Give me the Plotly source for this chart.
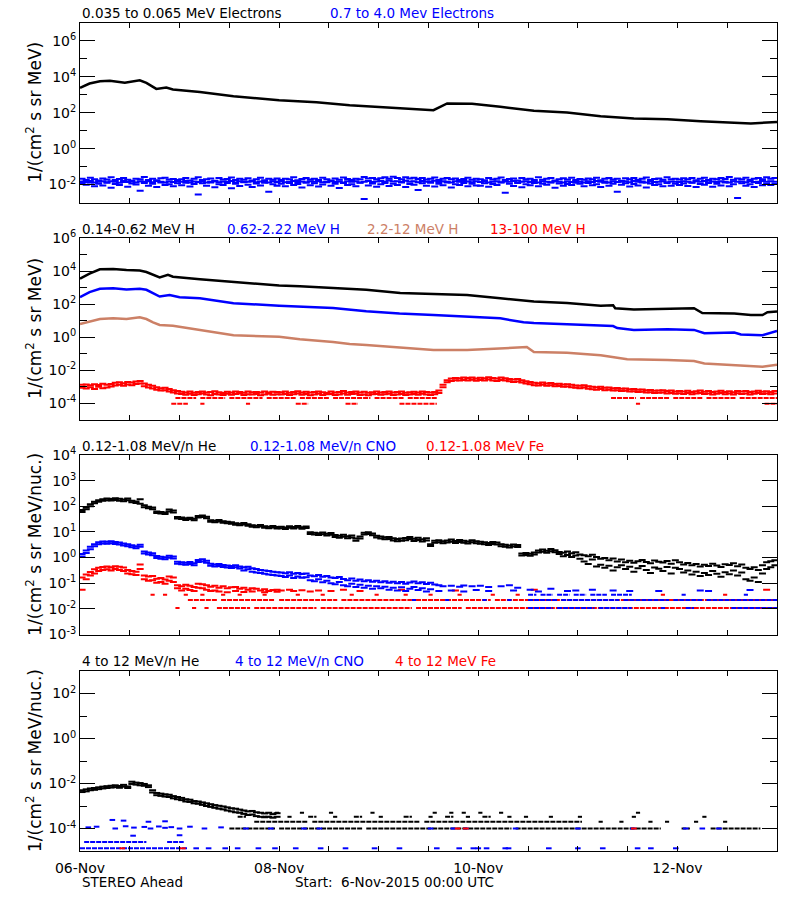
import pandas as pd
import plotly.graph_objects as go

N = None
START = pd.Timestamp("2015-11-06 00:00")
DAYS = 7

# ---------------- data (flux values stored as log10) ----------------
# Panel 1 : electrons
e_low_hours = [0, 2.3, 4.8, 7.2, 10.8, 14.4, 16, 18.4, 20.8, 22.4, 28.9, 37, 48, 57, 65, 73, 77.2,
               85.2, 88.5, 94.5, 101.3, 109.4, 117.4, 125.5, 133.5, 141.6, 149.6, 157.7, 161.7, 168]
e_low_log = [3.39, 3.63, 3.76, 3.78, 3.67, 3.81, 3.66, 3.33, 3.41, 3.30, 3.15, 2.92, 2.70, 2.59, 2.42, 2.30, 2.24,
             2.14, 2.52, 2.50, 2.33, 2.11, 2.02, 1.81, 1.68, 1.64, 1.53, 1.46, 1.40, 1.49]

e_high_a_log = [
    -1.68,-1.74,-1.62,-1.70,-1.77,-1.66,-1.72,-1.60,-1.75,-1.69,-1.64,-1.73,-1.79,-1.67,-1.71,-1.58,-1.74,-1.68,-1.76,-1.65,-1.62,-1.72,-1.69,-1.75,
    -1.71,-1.63,-1.77,-1.68,-1.60,-1.74,-1.70,-1.66,-1.79,-1.64,-1.72,-1.69,-1.61,-1.75,-1.67,-1.73,-1.65,-1.78,-1.70,-1.62,-1.76,-1.68,-1.73,-1.66,
    -1.74,-1.67,-1.71,-1.59,-1.76,-1.69,-1.64,-1.72,-1.68,-1.75,-1.62,-1.70,-1.77,-1.66,-1.73,-1.61,-1.69,-1.74,-1.67,-1.71,-1.58,-1.66,-1.63,-1.70,
    -1.65,-1.60,-1.68,-1.57,-1.63,-1.70,-1.59,-1.66,-1.62,-1.69,-1.64,-1.72,-1.67,-1.61,-1.74,-1.68,-1.63,-1.71,-1.66,-1.75,-1.69,-1.62,-1.73,-1.67,
    -1.70,-1.76,-1.64,-1.72,-1.68,-1.61,-1.74,-1.69,-1.66,-1.78,-1.63,-1.71,-1.67,-1.75,-1.60,-1.73,-1.68,-1.64,-1.77,-1.70,-1.65,-1.72,-1.62,-1.74,
    -1.69,-1.73,-1.66,-1.71,-1.62,-1.76,-1.68,-1.64,-1.72,-1.67,-1.79,-1.65,-1.70,-1.63,-1.74,-1.68,-1.61,-1.75,-1.69,-1.66,-1.73,-1.60,-1.71,-1.67,
    -1.72,-1.65,-1.70,-1.63,-1.76,-1.68,-1.62,-1.74,-1.67,-1.71,-1.64,-1.69,-1.58,-1.73,-1.66,-1.70,-1.62,-1.75,-1.68,-1.64,-1.71,-1.60,-1.67,-1.63]
e_high_b_log = [
    -1.92,-2.01,-1.88,-2.10,-1.95,-2.05,-1.90,-2.18,-1.97,-2.03,-1.86,-2.12,-1.94,-2.00,-2.35,-1.91,-2.07,-1.96,-2.14,-1.89,-2.02,-1.98,-2.09,-1.93,
    -2.04,-1.90,-2.11,-1.97,-2.55,-1.93,-2.06,-1.88,-2.15,-1.99,-2.03,-1.92,-2.20,-1.95,-2.08,-1.87,-2.01,-2.13,-1.94,-2.05,-1.90,-2.40,-1.98,-2.07,
    -1.95,-2.09,-1.91,-2.02,-1.97,-2.16,-1.89,-2.04,-1.93,-2.11,-2.00,-1.87,-2.06,-1.96,-2.19,-1.92,-2.03,-1.98,-2.10,-1.90,-2.80,-2.05,-1.94,-2.12,
    -1.99,-1.91,-2.08,-1.95,-2.03,-1.88,-2.14,-1.97,-2.01,-2.30,-1.93,-2.06,-1.90,-2.11,-1.96,-2.04,-1.89,-2.17,-1.98,-2.02,-1.92,-2.09,-1.95,-2.05,
    -2.06,-1.93,-2.12,-1.97,-2.02,-1.89,-2.45,-1.95,-2.08,-1.91,-2.15,-1.99,-2.04,-1.92,-2.10,-1.96,-2.01,-1.88,-2.18,-1.94,-2.07,-1.97,-2.03,-1.90,
    -1.96,-2.09,-1.92,-2.04,-1.99,-2.13,-1.90,-2.06,-1.95,-2.40,-2.01,-1.93,-2.11,-1.97,-2.05,-1.89,-2.16,-1.94,-2.02,-1.98,-2.10,-1.91,-2.07,-1.95,
    -2.03,-1.94,-2.08,-1.90,-2.14,-1.97,-2.01,-1.92,-2.12,-1.96,-2.05,-1.89,-2.09,-1.99,-2.75,-1.93,-2.06,-1.98,-2.13,-1.91,-2.04,-1.95,-2.02,-1.97]
e_high_c_log = [
    -1.83,-1.86,-1.80,-1.89,-1.84,-1.81,-1.87,-1.82,-1.85,-1.90,-1.79,-1.86,-1.83,-1.88,-1.81,-1.85,-1.82,-1.87,-1.80,-1.84,-1.89,-1.83,-1.86,-1.81,
    -1.85,-1.80,-1.88,-1.83,-1.86,-1.82,-1.89,-1.84,-1.81,-1.87,-1.83,-1.85,-1.80,-1.88,-1.82,-1.86,-1.84,-1.81,-1.87,-1.83,-1.85,-1.89,-1.82,-1.86,
    -1.82,-1.87,-1.84,-1.80,-1.86,-1.83,-1.88,-1.81,-1.85,-1.82,-1.87,-1.84,-1.80,-1.86,-1.83,-1.89,-1.81,-1.85,-1.82,-1.88,-1.84,-1.80,-1.86,-1.83,
    -1.80,-1.84,-1.78,-1.83,-1.81,-1.86,-1.79,-1.84,-1.82,-1.87,-1.80,-1.85,-1.83,-1.79,-1.86,-1.81,-1.84,-1.88,-1.82,-1.85,-1.80,-1.83,-1.87,-1.81,
    -1.86,-1.82,-1.88,-1.84,-1.81,-1.87,-1.83,-1.85,-1.80,-1.89,-1.84,-1.82,-1.86,-1.83,-1.88,-1.81,-1.85,-1.87,-1.82,-1.84,-1.89,-1.83,-1.86,-1.80,
    -1.84,-1.88,-1.82,-1.86,-1.80,-1.85,-1.83,-1.89,-1.81,-1.86,-1.84,-1.82,-1.87,-1.80,-1.85,-1.83,-1.88,-1.82,-1.86,-1.84,-1.81,-1.87,-1.83,-1.85,
    -1.86,-1.81,-1.84,-1.88,-1.82,-1.85,-1.80,-1.87,-1.83,-1.86,-1.81,-1.84,-1.89,-1.82,-1.85,-1.83,-1.87,-1.81,-1.86,-1.84,-1.80,-1.85,-1.82,-1.84]

# Panel 2 : protons
h1_hours = [0, 2.3, 4.8, 8, 11.2, 14.4, 16, 18.4, 19.2, 21.2, 22.4, 28.9, 37, 48, 53, 61, 69, 77.2, 85.2, 93.3,
            101.3, 109.4, 117.4, 125.5, 128.5, 129, 133.5, 141.6, 148, 150, 157.7, 161.7, 164.5, 165.7, 168]
h1_log = [3.53, 3.84, 4.10, 4.12, 4.06, 4.03, 3.94, 3.67, 3.61, 3.77, 3.65, 3.50, 3.33, 3.12, 3.08, 2.96, 2.86, 2.67, 2.61, 2.55,
          2.35, 2.15, 2.06, 1.90, 1.92, 1.74, 1.66, 1.70, 1.74, 1.45, 1.43, 1.33, 1.33, 1.50, 1.54]
h2_hours = [0, 2.3, 4.8, 8, 11.2, 14.4, 16, 18, 19.2, 21.6, 24, 28.9, 32.9, 37, 48, 53, 61, 69, 77, 85.2, 93.3,
            101.3, 106.9, 109.4, 117.4, 125.5, 128.5, 129.5, 133.5, 141.6, 148, 150.5, 157.7, 159.3, 164.5, 168]
h2_log = [2.41, 2.72, 2.92, 2.95, 2.88, 2.92, 2.86, 2.61, 2.45, 2.55, 2.41, 2.35, 2.21, 2.05, 1.90, 1.86, 1.76, 1.56, 1.42, 1.33, 1.25,
          1.13, 0.89, 0.85, 0.78, 0.68, 0.66, 0.54, 0.43, 0.47, 0.43, 0.23, 0.27, 0.15, 0.11, 0.37]
h3_hours = [0, 2.3, 4.8, 8, 11.2, 14.4, 16, 17.6, 19.2, 22.4, 28.9, 33, 37, 48, 53, 61, 65, 69, 77.2, 85.2, 93.3,
            101.3, 107.7, 109.4, 117.4, 125.5, 131.9, 141.6, 148, 150.5, 157.7, 164.5, 168]
h3_log = [0.79, 0.93, 1.09, 1.13, 1.09, 1.19, 1.09, 0.89, 0.73, 0.68, 0.43, 0.28, 0.11, 0.01, -0.13, -0.30, -0.43, -0.49, -0.64, -0.79, -0.79,
          -0.70, -0.61, -0.91, -0.95, -1.11, -1.35, -1.39, -1.45, -1.60, -1.68, -1.80, -1.68]

h4_a_log = [
    -2.90,-2.88,-2.93,-2.86,-2.91,-2.84,-2.89,-2.85,-2.78,-2.74,-2.80,-2.72,-2.76,-2.70,-2.66,-2.82,-2.90,-2.95,-3.05,-3.10,-3.08,-3.15,-3.22,-3.28,
    -3.32,-3.36,-3.30,-3.38,-3.34,-3.31,-3.37,-3.33,-3.29,-3.35,-3.39,-3.32,-3.36,-3.30,-3.34,-3.38,-3.31,-3.35,-3.33,-3.37,-3.30,-3.36,-3.32,-3.34,
    -3.35,-3.31,-3.38,-3.33,-3.29,-3.36,-3.32,-3.37,-3.34,-3.30,-3.35,-3.39,-3.31,-3.36,-3.33,-3.28,-3.37,-3.34,-3.30,-3.36,-3.32,-3.38,-3.35,-3.31,
    -3.36,-3.33,-3.30,-3.37,-3.34,-3.31,-3.38,-3.35,-3.32,-3.36,-3.30,-3.34,-3.37,-3.33,-3.25,-2.90,-2.62,-2.52,-2.48,-2.50,-2.46,-2.49,-2.45,-2.51,
    -2.47,-2.50,-2.44,-2.49,-2.52,-2.46,-2.50,-2.54,-2.58,-2.55,-2.62,-2.68,-2.72,-2.78,-2.80,-2.76,-2.82,-2.79,-2.85,-2.83,-2.88,-2.86,-2.90,-2.94,
    -2.96,-2.92,-2.99,-3.02,-3.05,-3.01,-3.08,-3.06,-3.11,-3.09,-3.14,-3.12,-3.17,-3.15,-3.20,-3.18,-3.23,-3.21,-3.26,-3.24,-3.22,-3.28,-3.25,-3.30,
    -3.27,-3.31,-3.26,-3.33,-3.29,-3.25,-3.32,-3.28,-3.34,-3.30,-3.26,-3.33,-3.29,-3.35,-3.27,-3.31,-3.28,-3.34,-3.30,-3.26,-3.32,-3.29,-3.33,-3.28]
h4_b_log = [
    -3.08,-3.12,-3.05,-3.15,-3.02,-3.10,-3.06,-3.00,-2.94,-2.90,-2.96,-2.88,-2.92,-2.85,-2.82,-2.98,-3.06,-3.12,-3.20,-3.25,-3.22,-3.30,-3.36,-3.42,
    -3.46,-3.50,-3.44,-3.52,-3.47,-3.43,-3.49,-3.53,-3.45,-3.48,-3.51,-3.44,-3.50,-3.46,-3.42,-3.52,-3.47,-3.49,-3.45,-3.53,-3.48,-3.44,-3.50,-3.47,
    -3.49,-3.45,-3.52,-3.47,-3.43,-3.50,-3.46,-3.53,-3.48,-3.44,-3.51,-3.47,-3.45,-3.52,-3.49,-3.43,-3.50,-3.46,-3.44,-3.51,-3.48,-3.53,-3.47,-3.45,
    -3.50,-3.47,-3.44,-3.52,-3.48,-3.45,-3.51,-3.49,-3.46,-3.50,-3.44,-3.48,-3.52,-3.47,-3.40,-3.05,-2.74,-2.66,-2.62,-2.64,-2.60,-2.63,-2.59,-2.65,
    -2.61,-2.64,-2.58,-2.63,-2.66,-2.60,-2.64,-2.68,-2.72,-2.69,-2.76,-2.82,-2.86,-2.92,-2.94,-2.90,-2.96,-2.93,-2.99,-2.97,-3.02,-3.00,-3.04,-3.08,
    -3.10,-3.06,-3.13,-3.16,-3.19,-3.15,-3.22,-3.20,-3.25,-3.23,-3.28,-3.26,-3.31,-3.29,-3.34,-3.32,-3.37,-3.35,-3.40,-3.38,-3.36,-3.42,-3.39,-3.44,
    -3.41,-3.45,-3.40,-3.47,-3.43,-3.39,-3.46,-3.42,-3.48,-3.44,-3.40,-3.47,-3.43,-3.49,-3.41,-3.45,-3.42,-3.48,-3.44,-3.40,-3.46,-3.43,-3.47,-3.42]
# count-floor levels of the 13-100 MeV channel: (start hour, end hour)
h4_floor1_log = -3.70
h4_floor1_runs = [(23, 28), (29, 35), (36, 44), (45, 52), (53, 60), (61, 70), (71, 78), (79, 86),
                  (128, 134), (135, 142), (143, 150), (151, 158), (159, 168)]
h4_floor2_log = -4.05
h4_floor2_runs = [(22, 26), (29, 30), (40, 41), (52, 55), (64, 67), (77, 86), (134, 135), (165, 168)]

# Panel 3 : 0.12-1.08 MeV/n ions
he_a_log = [
    1.86,1.95,2.08,2.18,2.24,2.27,2.30,2.28,2.31,2.29,2.26,2.30,2.22,2.19,2.27,2.04,1.98,1.95,1.80,1.78,1.76,1.87,1.84,1.58,
    1.56,1.53,1.55,1.51,1.62,1.64,1.59,1.46,1.44,1.47,1.42,1.40,1.38,1.34,1.32,1.35,1.30,1.26,1.24,1.27,1.22,1.20,1.23,1.19,
    1.20,1.17,1.22,1.19,1.23,1.18,1.21,0.99,0.97,0.95,0.98,0.93,0.96,0.88,0.85,0.89,0.83,0.86,0.74,0.82,0.97,0.99,0.94,0.85,
    0.82,0.79,0.80,0.75,0.72,0.74,0.76,0.80,0.73,0.77,0.71,0.75,0.52,0.66,0.68,0.64,0.67,0.70,0.65,0.69,0.66,0.63,0.68,0.64,
    0.62,0.60,0.57,0.61,0.59,0.52,0.50,0.47,0.51,0.49,0.16,0.18,0.15,0.20,0.28,0.31,0.27,0.33,0.29,0.22,0.19,0.24,0.17,0.21,
    0.12,0.09,0.05,0.11,0.02,-0.05,-0.02,-0.10,-0.04,-0.15,-0.08,-0.18,-0.12,-0.20,-0.14,-0.09,-0.17,-0.22,-0.11,-0.16,-0.19,-0.13,-0.24,-0.10,
    -0.18,-0.27,-0.21,-0.30,-0.25,-0.35,-0.28,-0.33,-0.24,-0.31,-0.37,-0.26,-0.29,-0.22,-0.34,-0.27,-0.40,-0.45,-0.38,-0.48,-0.30,-0.18,-0.14,-0.10]
he_b_log = [
    1.78,1.88,2.00,2.12,2.18,2.22,2.24,2.23,2.25,2.22,2.20,2.24,2.16,2.13,2.10,1.96,1.92,1.88,1.74,1.72,1.70,1.80,1.76,1.52,
    1.50,1.47,1.50,1.46,1.56,1.58,1.53,1.40,1.38,1.41,1.36,1.34,1.32,1.28,1.26,1.29,1.24,1.20,1.18,1.21,1.16,1.14,1.17,1.13,
    1.14,1.11,1.16,1.13,1.17,1.12,1.15,0.92,0.90,0.88,0.91,0.86,0.89,0.80,0.77,0.81,0.75,0.78,0.66,0.74,0.90,0.92,0.87,0.78,
    0.74,0.71,0.72,0.67,0.64,0.66,0.68,0.72,0.65,0.69,0.63,0.67,0.45,0.58,0.60,0.56,0.59,0.62,0.57,0.61,0.58,0.55,0.60,0.56,
    0.54,0.52,0.49,0.53,0.51,0.44,0.42,0.39,0.43,0.41,0.08,0.10,0.07,0.12,0.20,0.23,0.19,0.25,0.21,0.14,0.05,0.10,0.02,0.08,
    -0.05,-0.15,-0.25,-0.08,-0.35,-0.28,-0.40,-0.32,-0.50,-0.38,-0.30,-0.45,-0.36,-0.55,-0.42,-0.33,-0.48,-0.60,-0.39,-0.44,-0.52,-0.37,-0.62,-0.40,
    -0.45,-0.58,-0.50,-0.66,-0.55,-0.72,-0.60,-0.68,-0.52,-0.63,-0.75,-0.57,-0.65,-0.50,-0.70,-0.58,-0.85,-0.90,-0.78,-0.95,-0.62,-0.45,-0.38,-0.30]
cno_a_log = [
    0.14,0.28,0.42,0.52,0.60,0.63,0.62,0.64,0.61,0.59,0.55,0.52,0.48,0.44,0.50,0.24,0.20,0.17,0.06,0.03,0.01,0.07,0.04,-0.16,
    -0.18,-0.20,-0.17,-0.22,-0.09,-0.07,-0.12,-0.24,-0.27,-0.25,-0.29,-0.31,-0.33,-0.30,-0.35,-0.38,-0.36,-0.42,-0.45,-0.48,-0.50,-0.52,-0.55,-0.57,
    -0.58,-0.61,-0.57,-0.63,-0.60,-0.64,-0.62,-0.70,-0.73,-0.68,-0.75,-0.72,-0.78,-0.80,-0.76,-0.84,-0.88,-0.82,-0.90,-0.86,-0.92,-0.88,-0.94,-0.90,
    -0.96,-0.92,-0.98,-0.94,-1.00,-0.95,-1.02,-0.97,-0.93,-1.00,-0.96,-1.03,-0.98,-1.05,-1.08,-1.12,N,-1.10,N,-1.14,-1.09,N,-1.12,N,
    -1.10,N,-1.15,N,N,-1.12,N,-1.08,N,-1.18,N,N,-1.25,N,N,N,N,-1.22,N,N,N,N,N,-1.28,
    N,N,N,-1.25,N,N,N,N,N,N,N,N,-1.30,N,N,N,N,N,N,N,N,N,N,N,
    N,N,N,N,N,N,N,-1.30,N,N,N,N,N,N,N,N,N,N,N,N,N,N,N,N]
cno_b_log = [
    0.04,0.18,0.32,0.44,0.52,0.55,0.54,0.56,0.53,0.51,0.47,0.44,0.40,0.36,0.42,0.16,0.12,0.09,-0.02,-0.05,-0.07,-0.01,-0.04,-0.24,
    -0.26,-0.28,-0.25,-0.30,-0.17,-0.15,-0.20,-0.32,-0.35,-0.33,-0.37,-0.39,-0.41,-0.38,-0.43,-0.50,-0.46,-0.55,-0.58,-0.60,-0.63,-0.66,-0.68,-0.70,
    -0.72,-0.76,-0.70,-0.80,-0.74,-0.79,-0.77,-0.88,-0.92,-0.85,-0.96,-0.90,-1.00,-1.04,-0.95,-1.08,-1.12,-1.02,-1.15,-1.06,-1.18,-1.10,-1.22,-1.12,
    -1.20,-1.14,-1.25,-1.18,-1.28,-1.16,-1.30,-1.22,-1.15,-1.26,-1.20,-1.32,-1.24,N,-1.30,N,N,-1.28,N,N,-1.32,N,N,-1.26,
    N,N,-1.30,N,N,N,N,N,-1.28,N,N,N,N,N,-1.32,N,N,N,N,N,N,-1.30,N,N,
    N,N,N,N,N,N,N,N,-1.28,N,N,N,N,N,N,N,N,N,N,-1.30,N,N,N,N,
    N,N,N,N,N,-1.28,N,N,N,N,N,N,N,N,N,N,N,-1.26,N,N,N,N,N,N]
fe_a_log = [
    -0.78,-0.66,-0.56,-0.46,-0.40,-0.37,-0.35,-0.38,-0.34,-0.36,-0.39,-0.48,-0.52,-0.55,-0.27,-0.70,-0.74,-0.72,-0.83,-0.80,-0.86,-0.74,-0.78,-1.08,
    -1.12,-1.06,-1.10,-1.15,-1.02,-1.04,-1.08,-1.14,-1.10,-1.18,-1.12,-1.20,-1.16,-1.15,-1.22,-1.18,-1.25,-1.20,-1.22,-1.28,-1.24,-1.30,-1.26,-1.25,
    -1.28,N,-1.25,-1.30,N,-1.27,N,-1.32,N,-1.28,N,N,-1.30,N,N,-1.25,N,N,N,-1.30,N,N,N,N,
    N,N,N,N,N,-1.25,N,N,N,N,N,N,N,N,N,N,N,N,-1.28,N,N,N,N,N,
    N,N,N,N,N,N,N,N,N,N,N,N,N,-1.25,N,N,N,N,N,N,N,N,N,N,
    N,N,N,N,N,N,N,N,N,N,N,N,N,N,N,N,N,N,N,N,N,N,N,N,
    N,N,N,N,N,N,N,N,N,N,N,N,N,N,N,N,N,N,N,N,N,-1.25,N,N]
fe_b_log = [
    -1.25,-0.85,-0.70,-0.62,-0.52,-0.48,-0.46,-0.50,-0.45,-0.48,-0.52,-0.62,-0.65,-0.68,-0.45,-0.85,-0.90,-0.88,-0.98,-0.95,-1.02,-0.90,-0.95,-1.20,
    -1.28,-1.22,-1.26,-1.30,-1.18,-1.20,-1.25,-1.30,-1.28,-1.32,N,-1.35,N,-1.30,N,-1.34,N,-1.32,N,N,-1.35,N,N,-1.33]
# count-floor levels (start hour, end hour)
lvl1_log, lvl2_log, lvl3_log = -1.97, -1.65, -1.45
fe_lvl1_runs = [(23, 24), (27, 28), (30, 31), (33, 41), (42, 57), (58, 80), (81, 92), (93, 168)]
cno_lvl1_runs = [(108, 114), (115, 124), (125, 133), (140, 141), (146, 148), (157, 168)]
fe_lvl2_runs = [(26, 33), (34, 47), (48, 62), (63, 80), (81, 99), (100, 168)]
cno_lvl2_runs = [(80, 81), (88, 89), (97, 98), (103, 104), (108, 115), (116, 130), (131, 142), (143, 150), (151, 168)]
fe_lvl3_runs = [(17, 18), (20, 21), (25, 26), (29, 30), (34, 35), (38, 39), (44, 45), (52, 53), (58, 59), (65, 66),
                (71, 72), (78, 79), (84, 85), (91, 92), (99, 100), (105, 106), (140, 141), (155, 156)]
cno_lvl3_runs = [(108, 110), (111, 114), (115, 118), (119, 122), (123, 127), (128, 133), (145, 146), (160, 161)]

# Panel 4 : 4-12 MeV/n ions
he4_a_log = [
    -2.30,-2.26,-2.22,-2.20,-2.17,-2.14,-2.12,-2.10,-2.08,-2.11,-2.06,-2.13,-1.92,-1.96,-1.98,-2.02,-2.08,-2.30,-2.42,-2.45,-2.48,-2.50,-2.56,-2.60,
    -2.64,-2.70,-2.72,-2.78,-2.80,-2.84,-2.88,-2.92,-2.96,-2.99,-3.02,-3.06,-3.10,-3.12,-3.16,-3.20,-3.24,-3.22,-3.28,-3.30,-3.33,-3.30,-3.36,-3.32]
he4_b_log = [
    -2.38,-2.35,-2.30,-2.28,-2.25,-2.22,-2.20,-2.18,-2.16,-2.19,-2.14,-2.20,-2.02,-2.05,-2.08,-2.10,-2.16,-2.40,-2.52,-2.55,-2.58,-2.60,-2.66,-2.70,
    -2.74,-2.80,-2.82,-2.88,-2.90,-2.95,-3.00,-3.04,-3.08,-3.12,-3.15,-3.20,-3.24,-3.28,-3.30,-3.35,-3.40,-3.38,-3.45,-3.48,-3.50,-3.48,-3.52,-3.48]
he4_l1_log = -4.00
he4_l1_runs = [(36, 47), (48, 68), (69, 104), (105, 140), (145, 147), (152, 164)]
he4_l2_log = -3.70
he4_l2_runs = [(42, 55), (56, 82), (83, 121), (125, 126), (130, 131), (137, 138), (141, 142), (148, 149), (155, 156)]
he4_l3_log = -3.48
he4_l3_runs = [(38, 40), (44, 46), (50, 51), (55, 57), (61, 62), (66, 68), (72, 73), (78, 80), (84, 85), (88, 90),
               (93, 94), (97, 99), (103, 104), (107, 108), (113, 114), (120, 121), (133, 134), (150, 151)]
he4_l4_log = -3.30
he4_l4_runs = [(47, 48), (53, 54), (60, 61), (70, 71), (85, 86), (89, 90), (92, 93), (96, 97), (101, 102), (134, 135)]
cno4_l1_log = -4.88
cno4_l1_runs = [(0, 26)]
cno4_l2_log = -4.60
cno4_l2_runs = [(1, 16), (21, 25)]
cno4_pt_hours = [28, 31, 35, 38, 43, 47, 52, 58, 64, 71, 77, 86, 91.4, 94.8, 96, 98, 102.5, 103.3, 113, 120, 126, 134.4, 137.6, 143.6,
                 2, 4, 8.5, 11, 13, 15.5, 17, 19, 20.5, 22, 24, 26.5, 30, 34, 40, 46, 54, 57.7, 84.5, 90, 93, 105, 120, 133.3, 146, 150, 154,
                 7.8, 10.5, 16.5, 20.5, 12.8, 24]
cno4_pt_log = [-4.88, -4.88, -4.88, -4.88, -4.88, -4.88, -4.88, -4.88, -4.88, -4.88, -4.88, -4.88, -4.88, -4.88,
               -4.88, -4.88, -4.88, -4.88, -4.88, -4.88, -4.88, -4.88, -4.88, -4.88,
               -3.95, -3.92, -4.00, -3.90, -3.96, -3.93, -4.00, -3.91, -3.97, -3.94, -4.00, -3.92, -4.00, -3.95, -4.00, -4.00,
               -4.00, -4.00, -4.00, -4.00, -4.00, -4.00, -4.00, -4.00, -4.00, -4.00, -4.00,
               -3.62, -3.65, -3.70, -3.68, -4.32, -4.30]
fe4_pt_hours = [10.2, 24.8, 91, 93, 133.5]
fe4_pt_log = [-4.88, -4.88, -4.00, -4.00, -4.00]

# ---------------- labels ----------------
x_tick_labels = ["06-Nov", "08-Nov", "10-Nov", "12-Nov"]
titles = [
    [("0.035 to 0.065 MeV Electrons", "black", 80), ("0.7 to 4.0 Mev Electrons", "#0000FF", 328)],
    [("0.14-0.62 MeV H", "black", 80), ("0.62-2.22 MeV H", "#0000FF", 225),
     ("2.2-12 MeV H", "#CC8066", 365), ("13-100 MeV H", "#FF0000", 488)],
    [("0.12-1.08 MeV/n He", "black", 80), ("0.12-1.08 MeV/n CNO", "#0000FF", 248), ("0.12-1.08 MeV Fe", "#FF0000", 424)],
    [("4 to 12 MeV/n He", "black", 80), ("4 to 12 MeV/n CNO", "#0000FF", 233), ("4 to 12 MeV Fe", "#FF0000", 393)],
]
y_titles = ["1/(cm<sup>2</sup> s sr MeV)", "1/(cm<sup>2</sup> s sr MeV)",
            "1/(cm<sup>2</sup> s sr MeV/nuc.)", "1/(cm<sup>2</sup> s sr MeV/nuc.)"]

# ---------------- helpers ----------------
BLACK, BLUE, TAN, RED = "black", "#0000FF", "#CC8066", "#FF0000"
FONT = "DejaVu Sans"


def tt(hours):
    return [None if h is None else START + pd.Timedelta(hours=h) for h in hours]


def vv(logs):
    return [None if v is None else 10 ** v for v in logs]


hourly = [h + 0.5 for h in range(24 * DAYS)]

fig = go.Figure()


def axes_of(row):
    s = "" if row == 1 else str(row)
    return dict(xaxis="x" + s, yaxis="y" + s)


def add_line(row, hours, logs, color, width=2.5):
    fig.add_trace(go.Scatter(x=tt(hours), y=vv(logs), mode="lines", line=dict(color=color, width=width),
                             showlegend=False, hoverinfo="skip", **axes_of(row)))


def add_pts(row, hours, logs, color, size=5):
    fig.add_trace(go.Scatter(x=tt(hours), y=vv(logs), mode="markers",
                             marker=dict(symbol="line-ew", size=size, color=color, line=dict(width=2, color=color)),
                             showlegend=False, hoverinfo="skip", **axes_of(row)))


def add_runs(row, runs, level, color):
    xs, ys = [], []
    for s, e in runs:
        xs += [s, e, None]
        ys += [level, level, None]
    fig.add_trace(go.Scatter(x=tt(xs), y=vv(ys), mode="lines",
                             line=dict(color=color, width=2, dash="5px,1px"),
                             showlegend=False, hoverinfo="skip", connectgaps=False, **axes_of(row)))


# panel 1
add_line(1, e_low_hours, e_low_log, BLACK)
add_pts(1, hourly, e_high_a_log, BLUE)
add_pts(1, hourly, e_high_c_log, BLUE)
add_pts(1, hourly, e_high_b_log, BLUE)
# panel 2
add_line(2, h1_hours, h1_log, BLACK)
add_line(2, h2_hours, h2_log, BLUE)
add_line(2, h3_hours, h3_log, TAN)
add_pts(2, hourly, h4_a_log, RED)
add_pts(2, hourly, h4_b_log, RED)
add_runs(2, h4_floor1_runs, h4_floor1_log, RED)
add_runs(2, h4_floor2_runs, h4_floor2_log, RED)
# panel 3
add_runs(3, fe_lvl1_runs, lvl1_log, RED)
add_runs(3, fe_lvl2_runs, lvl2_log, RED)
add_runs(3, fe_lvl3_runs, lvl3_log, RED)
add_runs(3, cno_lvl1_runs, lvl1_log, BLUE)
add_runs(3, cno_lvl2_runs, lvl2_log, BLUE)
add_runs(3, cno_lvl3_runs, lvl3_log, BLUE)
add_pts(3, hourly, fe_a_log, RED)
add_pts(3, hourly[:len(fe_b_log)], fe_b_log, RED)
add_pts(3, hourly, cno_a_log, BLUE)
add_pts(3, hourly, cno_b_log, BLUE)
add_pts(3, hourly, he_a_log, BLACK)
add_pts(3, hourly, he_b_log, BLACK)
# panel 4
add_runs(4, cno4_l1_runs, cno4_l1_log, BLUE)
add_runs(4, cno4_l2_runs, cno4_l2_log, BLUE)
add_runs(4, he4_l1_runs, he4_l1_log, BLACK)
add_runs(4, he4_l2_runs, he4_l2_log, BLACK)
add_runs(4, he4_l3_runs, he4_l3_log, BLACK)
add_runs(4, he4_l4_runs, he4_l4_log, BLACK)
add_pts(4, cno4_pt_hours, cno4_pt_log, BLUE, size=4)
add_pts(4, fe4_pt_hours, fe4_pt_log, RED, size=4)
add_pts(4, hourly[:len(he4_a_log)], he4_a_log, BLACK)
add_pts(4, hourly[:len(he4_b_log)], he4_b_log, BLACK)

# ---------------- axes ----------------
FIG_W, FIG_H = 800, 900
PLOT_L, PLOT_R, PLOT_T, PLOT_B = 80, 777, 23, 851          # page pixels of the plotting area
M_L, M_T = PLOT_L, PLOT_T
M_R, M_B = FIG_W - PLOT_R, FIG_H - PLOT_B
PW, PH = PLOT_R - PLOT_L, PLOT_B - PLOT_T

panel_px = [(23, 202.5), (238, 419.5), (455, 634.5), (671, 851)]
y_ranges = [(-3, 7), (-5, 6), (-3, 4), (-5, 3)]
y_major = [[-2, 0, 2, 4, 6], [-4, -2, 0, 2, 4, 6], [-3, -2, -1, 0, 1, 2, 3, 4], [-4, -2, 0, 2]]
y_minor = [[-1, 1, 3, 5], [-3, -1, 1, 3, 5], [], [-3, -1, 1]]

x_major = [START + pd.Timedelta(days=d) for d in (0, 2, 4, 6)]
x_minor = list(pd.date_range(START, periods=15, freq="12h"))

layout = dict(width=FIG_W, height=FIG_H, plot_bgcolor="white", paper_bgcolor="white",
              margin=dict(l=M_L, r=M_R, t=M_T, b=M_B, autoexpand=False),
              font=dict(family=FONT, size=13, color="black"), showlegend=False, hovermode=False)
for i in range(4):
    sfx = "" if i == 0 else str(i + 1)
    top, bot = panel_px[i]
    dom = [max(0.0, (PLOT_B - bot) / PH), min(1.0, (PLOT_B - top) / PH)]
    layout[f"yaxis{sfx}"] = dict(
        type="log", range=list(y_ranges[i]), domain=dom, anchor=f"x{sfx}",
        tickmode="array", tickvals=[10 ** k for k in y_major[i]],
        ticktext=[f"10<sup>{k}</sup>" for k in y_major[i]],
        ticks="inside", ticklen=15, tickwidth=1, tickcolor="black", mirror="ticks",
        showline=True, linecolor="black", linewidth=1, showgrid=False, zeroline=False,
        tickfont=dict(family=FONT, size=14),
        minor=dict(tickmode="array", tickvals=[10 ** k for k in y_minor[i]], ticks="inside",
                   ticklen=7, tickwidth=1, tickcolor="black", showgrid=False),
    )
    layout[f"xaxis{sfx}"] = dict(
        type="date", range=[START, START + pd.Timedelta(days=DAYS)], domain=[0, 1], anchor=f"y{sfx}",
        tickmode="array", tickvals=x_major, ticktext=x_tick_labels, showticklabels=(i == 3),
        ticks="inside", ticklen=5, tickwidth=1, tickcolor="black", mirror="ticks",
        showline=True, linecolor="black", linewidth=1, showgrid=False, zeroline=False,
        tickfont=dict(family=FONT, size=14), ticklabelstandoff=4,
        minor=dict(tickmode="array", tickvals=x_minor, ticks="inside", ticklen=5, tickwidth=1,
                   tickcolor="black", showgrid=False),
    )
fig.update_layout(**layout)


def px_x(p):
    return (p - PLOT_L) / PW


def px_y(p):
    return (PLOT_B - p) / PH


ann = []
title_y = [13, 229, 446, 661]
for i, row in enumerate(titles):
    for text, color, xp in row:
        ann.append(dict(text=text, x=px_x(xp), y=px_y(title_y[i]), xref="paper", yref="paper",
                        xanchor="left", yanchor="middle", showarrow=False,
                        font=dict(family=FONT, size=13.5, color=color)))
    top, bot = panel_px[i]
    ann.append(dict(text=y_titles[i], x=px_x(34), y=px_y((top + bot) / 2), xref="paper", yref="paper",
                    xanchor="center", yanchor="middle", textangle=-90, showarrow=False,
                    font=dict(family=FONT, size=17, color="black")))
ann.append(dict(text="STEREO Ahead", x=px_x(80), y=px_y(882), xref="paper", yref="paper",
                xanchor="left", yanchor="middle", showarrow=False, font=dict(family=FONT, size=13.5)))
ann.append(dict(text="Start:  6-Nov-2015 00:00 UTC", x=px_x(293), y=px_y(882), xref="paper", yref="paper",
                xanchor="left", yanchor="middle", showarrow=False, font=dict(family=FONT, size=13.5)))
fig.update_layout(annotations=ann)

# place the figure at the page origin (remove the browser's default body margin), no mode bar
fig.write_html("out.html", config={"displayModeBar": False, "staticPlot": True},
               post_script="document.body.style.margin='0px';")
